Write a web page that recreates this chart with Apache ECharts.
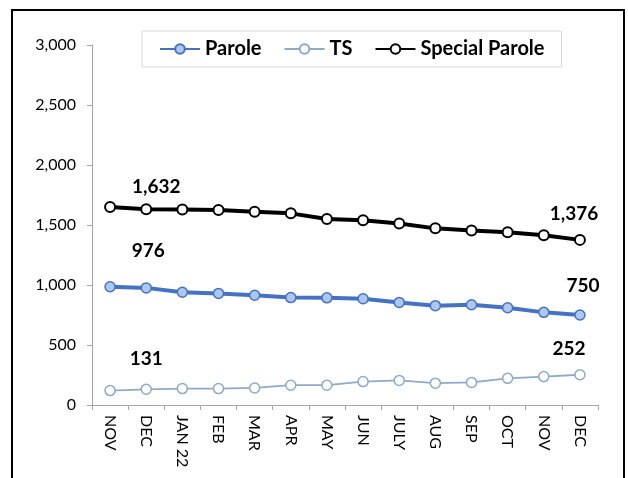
<!DOCTYPE html>
<html style="height: 100%">
<head>
<meta charset="utf-8">
</head>
<body style="height: 100%; margin: 0">
	<div id="container" style="width: 628px; height: 478px"></div>
	<script type="text/javascript" src="https://cdn.jsdelivr.net/npm/echarts@6/dist/echarts.min.js"></script>
	<script type="text/javascript">
		// months Nov 2021 .. Dec 2022
		var months = ['NOV', 'DEC', 'JAN 22', 'FEB', 'MAR', 'APR', 'MAY', 'JUN', 'JULY', 'AUG', 'SEP', 'OCT', 'NOV', 'DEC'];
		var parole = [985, 976, 940, 930, 915, 895, 893, 885, 855, 828, 835, 810, 772, 750];
		var ts = [120, 131, 137, 137, 142, 165, 165, 195, 205, 182, 188, 222, 237, 252];
		var specialParole = [1650, 1632, 1630, 1625, 1610, 1597, 1550, 1540, 1512, 1472, 1455, 1440, 1415, 1376];
		var yTicks = [0, 500, 1000, 1500, 2000, 2500, 3000];

		var font = 'Lato';
		function fmt(v) { return Number(v).toLocaleString('en-US'); }
		var labelStyle = {
			show: true, position: 'top', color: '#000', fontWeight: 'bold', fontSize: 19, fontFamily: font,
			formatter: function (p) { return fmt(p.value); }
		};

		// only second and last points carry a value label
		function withLabels(arr, first, last) {
			return arr.map(function (v, i) {
				if (i === 1) return { value: v, label: Object.assign({}, labelStyle, first) };
				if (i === arr.length - 1) return { value: v, label: Object.assign({}, labelStyle, last) };
				return v;
			});
		}

		var dom = document.getElementById("container");
		var myChart = echarts.init(dom);
		var option = {
			animation: false,
			backgroundColor: '#fff',
			graphic: [{
				type: 'rect',
				shape: { x: 12, y: 10, width: 612, height: 480 },
				style: { fill: 'none', stroke: '#000', lineWidth: 2 }
			}],
			legend: {
				left: 142,
				top: 31,
				itemGap: 22,
				itemWidth: 40,
				itemHeight: 12,
				padding: [8, 17],
				borderColor: '#d9d9d9',
				borderWidth: 1,
				backgroundColor: '#fff',
				textStyle: { fontFamily: font, fontWeight: 'bold', fontSize: 20, color: '#000' },
				data: ['Parole', 'TS', 'Special Parole']
			},
			grid: { left: 92, right: 30, top: 45, bottom: 73 },
			xAxis: {
				type: 'category',
				data: months,
				boundaryGap: true,
				axisLine: { lineStyle: { color: '#a6a6a6' } },
				axisTick: { show: true, length: 5, lineStyle: { color: '#a6a6a6' } },
				axisLabel: { rotate: -90, color: '#000', fontFamily: font, fontSize: 16, margin: 10, interval: 0 }
			},
			yAxis: {
				type: 'value',
				min: yTicks[0],
				max: yTicks[yTicks.length - 1],
				interval: 500,
				splitLine: { show: false },
				axisLine: { show: true, lineStyle: { color: '#a6a6a6' } },
				axisTick: { show: true, length: 5, lineStyle: { color: '#a6a6a6' } },
				axisLabel: { color: '#000', fontFamily: font, fontSize: 16, margin: 16, formatter: fmt }
			},
			series: [
				{
					name: 'Parole',
					type: 'line',
					data: withLabels(parole, { distance: 22, offset: [2, 0] }, { distance: 14, offset: [3, 0] }),
					symbol: 'circle',
					symbolSize: 10,
					lineStyle: { color: '#4472c4', width: 4 },
					itemStyle: { color: '#adc8ec', borderColor: '#4472c4', borderWidth: 1.5 }
				},
				{
					name: 'TS',
					type: 'line',
					data: withLabels(ts, { distance: 15 }, { distance: 11, offset: [-11, 0] }),
					symbol: 'circle',
					symbolSize: 10,
					lineStyle: { color: '#8ea9c9', width: 1.8 },
					itemStyle: { color: '#fff', borderColor: '#8ea9c9', borderWidth: 1.5 }
				},
				{
					name: 'Special Parole',
					type: 'line',
					data: withLabels(specialParole, { distance: 7, offset: [10, 0] }, { distance: 11, offset: [-6, 0] }),
					symbol: 'circle',
					symbolSize: 10,
					lineStyle: { color: '#000', width: 4 },
					itemStyle: { color: '#fff', borderColor: '#000', borderWidth: 2 }
				}
			]
		};
		myChart.setOption(option, true);
	</script>
</body>
</html>
